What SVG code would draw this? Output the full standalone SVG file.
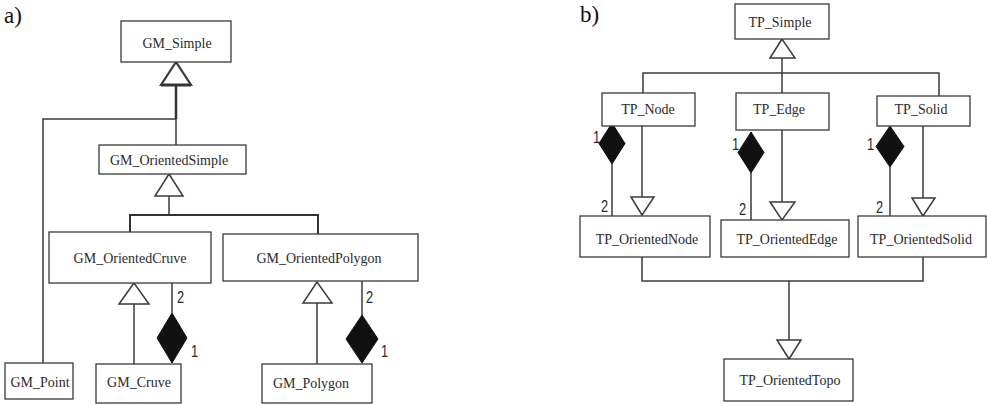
<svg xmlns="http://www.w3.org/2000/svg" width="987" height="405" viewBox="0 0 987 405">
<style>
.box{fill:#fff;stroke:#3a3a3a;stroke-width:1.3}
.t{font-family:"Liberation Serif","Times New Roman",serif;font-size:14px;fill:#2a2a2a;text-anchor:middle}
.lab{font-family:"Liberation Serif",serif;font-size:23px;fill:#111}
.n{font-family:"Liberation Sans",sans-serif;font-size:16px;fill:#2a2a2a}
.ln{fill:none;stroke:#3a3a3a;stroke-width:1.5}
.thick{fill:none;stroke:#333;stroke-width:2.5}
.tri{fill:#fff;stroke:#3a3a3a;stroke-width:1.5}
.dia{fill:#111;stroke:#111;stroke-width:1}
</style>
<rect width="987" height="405" fill="#fff"/>
<text class="lab" x="4" y="23">a)</text>
<text class="lab" x="580" y="22">b)</text>

<g id="connectors">
  <!-- panel a -->
  <polyline class="thick" points="176,85 176,119"/>
  <polyline class="ln" points="176,119 176,145"/>
  <polyline class="ln" points="176,119 43,119 43,363"/>
  <polygon class="tri" points="176,62 161,85 191,85" style="stroke-width:2.2"/>
  <polyline class="thick" points="161,85 191,85" style="stroke-width:3"/>
  <polyline class="ln" points="169,196 169,215"/>
  <polyline class="thick" points="130,232 130,215 318,215 318,234" style="stroke-width:2"/>
  <polygon class="tri" points="169,174 155,196 183,196"/>
  <polyline class="ln" points="134,304 134,364"/>
  <polygon class="tri" points="134,283 119,304 149,304"/>
  <polyline class="ln" points="172,283 172,313"/>
  <polygon class="dia" points="172,313 187,338 172,363 157,338"/>
  <polyline class="ln" points="317,303 317,364"/>
  <polygon class="tri" points="317,282 303,303 332,303"/>
  <polyline class="ln" points="362,281 362,315"/>
  <polygon class="dia" points="362,315 378,339 362,363 346,339"/>

  <!-- panel b -->
  <polyline class="ln" points="782,58 782,93"/>
  <polyline class="ln" points="643,93 643,73 939,73 939,96"/>
  <polygon class="tri" points="782,39 770,58 795,58"/>
  <polyline class="ln" points="612,164 612,216"/>
  <polygon class="dia" points="612,123 625,143.5 612,164 599,143.5"/>
  <polyline class="ln" points="642,126 642,197"/>
  <polygon class="tri" points="631,197 654,197 642,215"/>
  <polyline class="ln" points="751,173 751,222"/>
  <polygon class="dia" points="751,132 764,152.5 751,173 738,152.5"/>
  <polyline class="ln" points="782,130 782,202"/>
  <polygon class="tri" points="770,202 795,202 782,220"/>
  <polyline class="ln" points="890,167 890,216"/>
  <polygon class="dia" points="890,126 904,146.5 890,167 876,146.5"/>
  <polyline class="ln" points="923,126 923,198"/>
  <polygon class="tri" points="912,198 935,198 923,216"/>
  <polyline class="ln" points="642,257 642,281 923,281 923,257"/>
  <polyline class="ln" points="789,281 789,340"/>
  <polygon class="tri" points="777,340 801,340 789,359"/>

  <!-- multiplicities -->
  <text class="n" transform="translate(177,303) scale(0.8,1)">2</text>
  <text class="n" transform="translate(191,357) scale(0.8,1)">1</text>
  <text class="n" transform="translate(366,303) scale(0.8,1)">2</text>
  <text class="n" transform="translate(381,357) scale(0.8,1)">1</text>
  <text class="n" transform="translate(593,143) scale(0.8,1)">1</text>
  <text class="n" transform="translate(601,212) scale(0.8,1)">2</text>
  <text class="n" transform="translate(732,150) scale(0.8,1)">1</text>
  <text class="n" transform="translate(739,215) scale(0.8,1)">2</text>
  <text class="n" transform="translate(867,150) scale(0.8,1)">1</text>
  <text class="n" transform="translate(876,213) scale(0.8,1)">2</text>
</g>

<g id="GM_Simple"><rect class="box" x="121" y="21" width="110" height="41"/><text class="t" x="177" y="48">GM_Simple</text></g>
<g id="GM_OrientedSimple"><rect class="box" x="99" y="145" width="147" height="29"/><text class="t" x="169" y="165">GM_OrientedSimple</text></g>
<g id="GM_OrientedCruve"><rect class="box" x="49" y="232" width="162" height="51"/><text class="t" x="130" y="263">GM_OrientedCruve</text></g>
<g id="GM_OrientedPolygon"><rect class="box" x="223" y="234" width="195" height="47"/><text class="t" x="319" y="263">GM_OrientedPolygon</text></g>
<g id="GM_Point"><rect class="box" x="5" y="363" width="68" height="36"/><text class="t" x="40" y="387">GM_Point</text></g>
<g id="GM_Cruve"><rect class="box" x="96" y="364" width="85" height="39"/><text class="t" x="139" y="387">GM_Cruve</text></g>
<g id="GM_Polygon"><rect class="box" x="262" y="364" width="110" height="39"/><text class="t" x="311" y="388">GM_Polygon</text></g>

<g id="TP_Simple"><rect class="box" x="735" y="4" width="94" height="35"/><text class="t" x="780" y="27">TP_Simple</text></g>
<g id="TP_Node"><rect class="box" x="602" y="93" width="93" height="33"/><text class="t" x="648" y="114">TP_Node</text></g>
<g id="TP_Edge"><rect class="box" x="736" y="93" width="93" height="37"/><text class="t" x="779" y="114">TP_Edge</text></g>
<g id="TP_Solid"><rect class="box" x="877" y="96" width="93" height="30"/><text class="t" x="921" y="114">TP_Solid</text></g>
<g id="TP_OrientedNode"><rect class="box" x="580" y="216" width="130" height="41"/><text class="t" x="647" y="244">TP_OrientedNode</text></g>
<g id="TP_OrientedEdge"><rect class="box" x="721" y="220" width="128" height="37"/><text class="t" x="787" y="244">TP_OrientedEdge</text></g>
<g id="TP_OrientedSolid"><rect class="box" x="858" y="216" width="128" height="41"/><text class="t" x="921" y="244">TP_OrientedSolid</text></g>
<g id="TP_OrientedTopo"><rect class="box" x="724" y="359" width="129" height="42"/><text class="t" x="790" y="385">TP_OrientedTopo</text></g>
</svg>
